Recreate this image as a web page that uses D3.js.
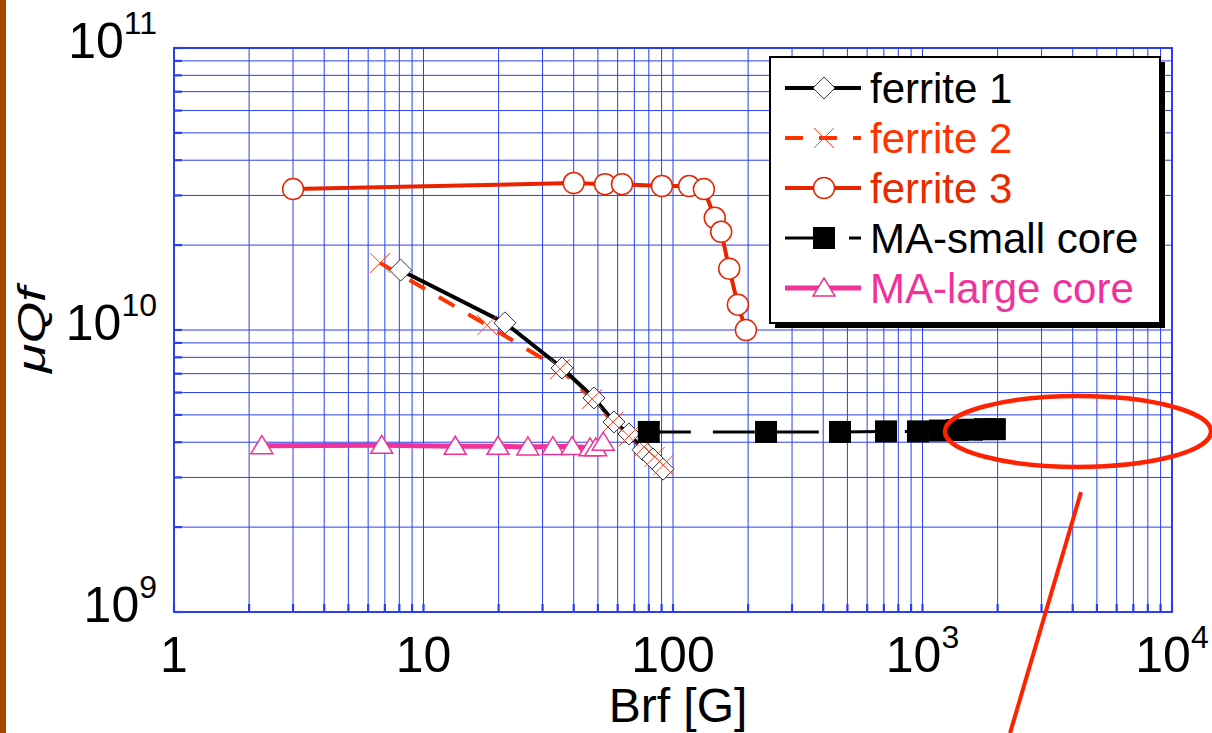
<!DOCTYPE html>
<html>
<head>
<meta charset="utf-8">
<script src="https://cdn.jsdelivr.net/npm/d3@7/dist/d3.min.js"></script>
<style>
  body { margin: 0; background: #fff; }
  svg { display: block; font-family: "Liberation Sans", Arial, Helvetica, sans-serif; }
</style>
</head>
<body>
<svg id="chart"></svg>
<script>
// Brf [G] and muQf values
const ferrite1B = [8.1, 21.2, 35.9, 48.2, 58, 66.6, 75.8, 83.1, 91.2];
const ferrite1Q = [1.63e10, 1.06e10, 7.33e9, 5.74e9, 4.72e9, 4.28e9, 3.76e9, 3.49e9, 3.21e9];

const ferrite2B = [6.7, 18.0, 35.3, 47.4, 57.5, 66.5, 76.5, 84.5, 91.5];
const ferrite2Q = [1.73e10, 1.04e10, 7.27e9, 5.69e9, 4.72e9, 4.2e9, 3.85e9, 3.55e9, 3.32e9];

const ferrite3B = [3, 40, 53.4, 62.5, 90.3, 116, 133, 147, 156, 168, 182, 196];
const ferrite3Q = [3.16e10, 3.32e10, 3.29e10, 3.29e10, 3.24e10, 3.24e10, 3.16e10, 2.5e10, 2.23e10, 1.65e10, 1.23e10, 1.0e10];

const maSmallB = [80, 236, 467, 714, 959, 1175, 1380, 1580, 1780, 1950];
const maSmallQ = [4.35e9, 4.35e9, 4.35e9, 4.37e9, 4.37e9, 4.4e9, 4.42e9, 4.43e9, 4.45e9, 4.45e9];

const maLargeB = [2.25, 6.8, 13.4, 19.9, 26.2, 33.0, 39.4, 46.5, 49.0, 52.5];
const maLargeQ = [3.89e9, 3.9e9, 3.87e9, 3.87e9, 3.85e9, 3.86e9, 3.86e9, 3.82e9, 3.82e9, 4.0e9];

const seriesNames = ["ferrite 1", "ferrite 2", "ferrite 3", "MA-small core", "MA-large core"];

const xTicks = [1, 10, 100, 1000, 10000];
const xTickLabels = ["1", "10", "100", "10^3", "10^4"];
const yTicks = [1e9, 1e10, 1e11];
const yTickLabels = ["10^9", "10^10", "10^11"];

// annotation ellipse (data coords of its bounding box) and pointer line
const annoBox = [1231, 14330, 3.27e9, 5.83e9];
const annoLine = [[4318, 2.66e9], [2243, 3.72e8]];

const W = 1212, H = 733;
const svg = d3.select("#chart").attr("width", W).attr("height", H);

const x = d3.scaleLog().domain([1, 1e4]).range([174, 1172]);
const y = d3.scaleLog().domain([1e9, 1e11]).range([612, 48]);

// brown strip at the left edge
svg.append("rect").attr("x", 0).attr("y", 0).attr("width", 6).attr("height", H).attr("fill", "#a94400");

// grid
const gridCol = "#2a3ff0";
const xGrid = [], yGrid = [];
[1, 10, 100, 1000].forEach(d => { for (let k = 1; k <= 9; k++) xGrid.push(d * k); });
xGrid.push(1e4);
[1e9, 1e10].forEach(d => { for (let k = 1; k <= 9; k++) yGrid.push(d * k); });
yGrid.push(1e11);

const grid = svg.append("g");
grid.selectAll(".vx").data(xGrid).enter().append("line")
  .attr("x1", d => x(d)).attr("x2", d => x(d))
  .attr("y1", y(1e9)).attr("y2", y(1e11))
  .attr("stroke", gridCol).attr("stroke-width", 1);
grid.selectAll(".hy").data(yGrid).enter().append("line")
  .attr("x1", x(1)).attr("x2", x(1e4))
  .attr("y1", d => y(d)).attr("y2", d => y(d))
  .attr("stroke", gridCol).attr("stroke-width", 1);
// frame + inward ticks
grid.append("rect").attr("x", x(1)).attr("y", y(1e11))
  .attr("width", x(1e4) - x(1)).attr("height", y(1e9) - y(1e11))
  .attr("fill", "none").attr("stroke", gridCol).attr("stroke-width", 2);
grid.selectAll(".ty").data(yGrid).enter().append("line")
  .attr("x1", x(1)).attr("x2", x(1) + 8)
  .attr("y1", d => y(d)).attr("y2", d => y(d))
  .attr("stroke", gridCol).attr("stroke-width", 2.2);
grid.selectAll(".tx").data(xGrid).enter().append("line")
  .attr("x1", d => x(d)).attr("x2", d => x(d))
  .attr("y1", y(1e9)).attr("y2", y(1e9) - 8)
  .attr("stroke", gridCol).attr("stroke-width", 2.2);

// tick labels
function powLabel(sel, s) {
  const p = s.split("^");
  sel.append("tspan").text(p[0]);
  if (p[1]) sel.append("tspan").attr("font-size", 32).attr("dy", -24).text(p[1]);
}
xTicks.forEach((t, i) => {
  const tx = svg.append("text").attr("x", x(t)).attr("y", 672)
    .attr("text-anchor", "middle").attr("font-size", 50).attr("fill", "#000");
  powLabel(tx, xTickLabels[i]);
});
yTicks.forEach((t, i) => {
  const ty = svg.append("text").attr("x", 157).attr("y", y(t) + 10)
    .attr("text-anchor", "end").attr("font-size", 50).attr("fill", "#000");
  powLabel(ty, yTickLabels[i]);
});

// axis titles
svg.append("text").attr("x", 678).attr("y", 722).attr("text-anchor", "middle")
  .attr("font-size", 48).text("Brf [G]");
svg.append("text").attr("transform", "translate(45,330) rotate(-90)")
  .attr("text-anchor", "middle").attr("font-size", 38).attr("font-style", "italic")
  .attr("textLength", 86).attr("lengthAdjust", "spacingAndGlyphs")
  .text("\u03bcQf");

// marker shapes
const diamond = "M0,-11L11,0L0,11L-11,0Z";
const cross = "M-10,-10L10,10M-10,10L10,-10";
const tri = "M0,-10L11,8L-11,8Z";

const line = d3.line().x(d => x(d[0])).y(d => y(d[1]));
const zip = (a, b) => a.map((v, i) => [v, b[i]]);

const f1 = zip(ferrite1B, ferrite1Q), f2 = zip(ferrite2B, ferrite2Q), f3 = zip(ferrite3B, ferrite3Q);
const ms = zip(maSmallB, maSmallQ), ml = zip(maLargeB, maLargeQ);

const plot = svg.append("g");

// ferrite 3
plot.append("path").datum(f3).attr("d", line).attr("fill", "none")
  .attr("stroke", "#e82400").attr("stroke-width", 4);
plot.selectAll(".c3").data(f3).enter().append("circle")
  .attr("cx", d => x(d[0])).attr("cy", d => y(d[1])).attr("r", 10.5)
  .attr("fill", "#fff").attr("stroke", "#e82400").attr("stroke-width", 1.5);

// MA-large core
plot.append("path").datum(ml).attr("d", line).attr("fill", "none")
  .attr("stroke", "#ef3399").attr("stroke-width", 5);
plot.selectAll(".t5").data(ml).enter().append("path")
  .attr("d", tri).attr("transform", d => "translate(" + x(d[0]) + "," + y(d[1]) + ")")
  .attr("fill", "#fff").attr("stroke", "#ef3399").attr("stroke-width", 1.5);

// ferrite 2 (dashed) and ferrite 1 lines
plot.append("path").datum(f2).attr("d", line).attr("fill", "none")
  .attr("stroke", "#ff3300").attr("stroke-width", 4).attr("stroke-dasharray", "18,16");
plot.append("path").datum(f1).attr("d", line).attr("fill", "none")
  .attr("stroke", "#000").attr("stroke-width", 4);
plot.selectAll(".d1").data(f1).enter().append("path")
  .attr("d", diamond).attr("transform", d => "translate(" + x(d[0]) + "," + y(d[1]) + ")")
  .attr("fill", "#fff").attr("stroke", "#333").attr("stroke-width", 1);
plot.selectAll(".x2").data(f2).enter().append("path")
  .attr("d", cross).attr("transform", d => "translate(" + x(d[0]) + "," + y(d[1]) + ")")
  .attr("fill", "none").attr("stroke", "#ff4422").attr("stroke-width", 1);

// MA-small core
plot.append("path").datum(ms).attr("d", line).attr("fill", "none")
  .attr("stroke", "#000").attr("stroke-width", 3).attr("stroke-dasharray", "42,22");
plot.selectAll(".s4").data(ms).enter().append("rect")
  .attr("x", d => x(d[0]) - 11).attr("y", d => y(d[1]) - 11)
  .attr("width", 22).attr("height", 22).attr("fill", "#000");

// annotation
const ex0 = x(annoBox[0]), ex1 = x(annoBox[1]), ey0 = y(annoBox[3]), ey1 = y(annoBox[2]);
svg.append("ellipse").attr("cx", (ex0 + ex1) / 2).attr("cy", (ey0 + ey1) / 2)
  .attr("rx", (ex1 - ex0) / 2).attr("ry", (ey1 - ey0) / 2)
  .attr("fill", "none").attr("stroke", "#ff2200").attr("stroke-width", 4.5);
svg.append("line")
  .attr("x1", x(annoLine[0][0])).attr("y1", y(annoLine[0][1]))
  .attr("x2", x(annoLine[1][0])).attr("y2", y(annoLine[1][1]))
  .attr("stroke", "#ff2200").attr("stroke-width", 4);

// legend
const lg = svg.append("g").attr("transform", "translate(770,57)");
lg.append("rect").attr("x", 5).attr("y", 5).attr("width", 390).attr("height", 266).attr("fill", "#000");
lg.append("rect").attr("width", 390).attr("height", 266).attr("fill", "#fff")
  .attr("stroke", "#000").attr("stroke-width", 2);
const legCols = ["#000", "#ff3300", "#e82400", "#000", "#ef3399"];
const legText = ["#000", "#ff3300", "#e82a00", "#000", "#f0339c"];
seriesNames.forEach((name, i) => {
  const cy = 31 + i * 50;
  const row = lg.append("g").attr("transform", "translate(0," + cy + ")");
  const ln = row.append("line").attr("x1", 15).attr("x2", 91).attr("y1", 0).attr("y2", 0)
    .attr("stroke", legCols[i]).attr("stroke-width", i === 4 ? 5 : (i === 3 ? 3 : 4));
  if (i === 1) ln.attr("stroke-dasharray", "18,16");
  if (i === 3) ln.attr("stroke-dasharray", "42,22");
  const m = "translate(54,0)";
  if (i === 0) row.append("path").attr("d", diamond).attr("transform", m).attr("fill", "#fff").attr("stroke", "#333");
  if (i === 1) row.append("path").attr("d", cross).attr("transform", m).attr("fill", "none").attr("stroke", "#ff4422");
  if (i === 2) row.append("circle").attr("cx", 54).attr("r", 10.5).attr("fill", "#fff").attr("stroke", "#e82400").attr("stroke-width", 1.5);
  if (i === 3) row.append("rect").attr("x", 43).attr("y", -11).attr("width", 22).attr("height", 22).attr("fill", "#000");
  if (i === 4) row.append("path").attr("d", tri).attr("transform", m).attr("fill", "#fff").attr("stroke", "#ef3399").attr("stroke-width", 1.5);
  row.append("text").attr("x", 100).attr("y", 15).attr("font-size", 42)
    .attr("fill", legText[i]).text(name);
});
</script>
</body>
</html>
